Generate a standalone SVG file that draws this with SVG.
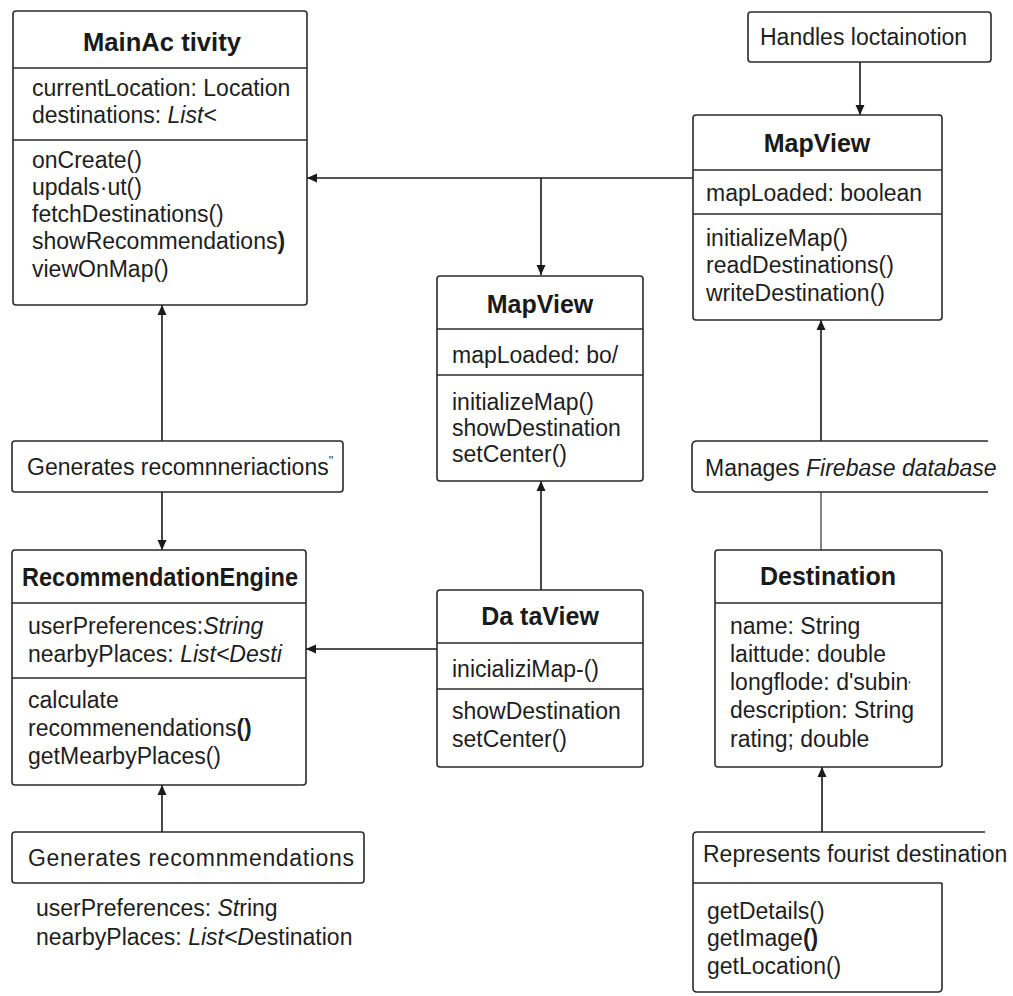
<svg xmlns="http://www.w3.org/2000/svg" width="1013" height="996" viewBox="0 0 1013 996">
<defs>
<marker id="ah" viewBox="0 0 10 10" refX="10" refY="5" markerWidth="10" markerHeight="10" markerUnits="userSpaceOnUse" orient="auto">
<path d="M0,0.5 L10,5 L0,9.5 Z" fill="#1a1a1a"/>
</marker>
<style>
.box{fill:#fff;stroke:#2a2a2a;stroke-width:1.6}
.sep{stroke:#2a2a2a;stroke-width:1.6;fill:none}
.t{font-family:"Liberation Sans",Arial,sans-serif;font-size:23px;fill:#1e1e1e}
.ti{font-family:"Liberation Sans",Arial,sans-serif;font-size:25px;font-weight:bold;fill:#1a1a1a;text-anchor:middle}
.c{stroke:#1a1a1a;stroke-width:1.6;fill:none}
.cg{stroke:#666;stroke-width:1.6;fill:none}
</style>
</defs>
<rect width="1013" height="996" fill="#fff"/>

<g id="connectors">
<path class="c" d="M693,178 L307,178" marker-end="url(#ah)"/>
<path class="c" d="M541,178 L541,275" marker-end="url(#ah)"/>
<path class="c" d="M860,62 L860,115" marker-end="url(#ah)"/>
<path class="c" d="M162,441 L162,305" marker-end="url(#ah)"/>
<path class="c" d="M162,492 L162,550" marker-end="url(#ah)"/>
<path class="c" d="M541,590 L541,481" marker-end="url(#ah)"/>
<path class="c" d="M437,649 L306,649" marker-end="url(#ah)"/>
<path class="c" d="M162,832 L162,785" marker-end="url(#ah)"/>
<path class="c" d="M821,441 L821,320" marker-end="url(#ah)"/>
<path class="cg" d="M821,492 L821,550"/>
<path class="c" d="M822,832 L822,767" marker-end="url(#ah)"/>
</g>

<g id="mainactivity">
<rect class="box" x="13" y="11" width="294" height="294" rx="3"/>
<line class="sep" x1="13" y1="68" x2="307" y2="68"/>
<line class="sep" x1="13" y1="140" x2="307" y2="140"/>
<text class="ti" x="162" y="51" textLength="158" lengthAdjust="spacingAndGlyphs">MainAc tivity</text>
<text class="t" x="32" y="96">currentLocation: Location</text>
<text class="t" x="32" y="123">destinations: <tspan font-style="italic">List&lt;</tspan></text>
<text class="t" x="32" y="168">onCreate()</text>
<text class="t" x="32" y="195">updals·ut()</text>
<text class="t" x="32" y="222">fetchDestinations()</text>
<text class="t" x="32" y="249">showRecommendations<tspan font-weight="bold">)</tspan></text>
<text class="t" x="32" y="277">viewOnMap()</text>
</g>

<g id="handles-location">
<rect class="box" x="748" y="12" width="243" height="50" rx="3"/>
<text class="t" x="760" y="45">Handles loctainotion</text>
</g>

<g id="mapview-right">
<rect class="box" x="693" y="115" width="249" height="205" rx="3"/>
<line class="sep" x1="693" y1="170" x2="942" y2="170"/>
<line class="sep" x1="693" y1="214" x2="942" y2="214"/>
<text class="ti" x="817" y="152">MapView</text>
<text class="t" x="706" y="201">mapLoaded: boolean</text>
<text class="t" x="706" y="246">initializeMap()</text>
<text class="t" x="706" y="273">readDestinations()</text>
<text class="t" x="706" y="301">writeDestination()</text>
</g>

<g id="mapview-center">
<rect class="box" x="437" y="276" width="206" height="205" rx="3"/>
<line class="sep" x1="437" y1="329" x2="643" y2="329"/>
<line class="sep" x1="437" y1="375" x2="643" y2="375"/>
<text class="ti" x="540" y="313" font-size="24">MapView</text>
<text class="t" x="452" y="363">mapLoaded: bo/</text>
<text class="t" x="452" y="410">initializeMap()</text>
<text class="t" x="452" y="436">showDestination</text>
<text class="t" x="452" y="462">setCenter()</text>
</g>

<g id="generates-top">
<rect class="box" x="12" y="441" width="331" height="51" rx="3"/>
<text class="t" x="27" y="475">Generates recomnneriactions<tspan font-size="12" dy="-10">''</tspan></text>
</g>

<g id="manages-firebase">
<path class="box" d="M988,441 L697,441 Q692,441 692,446 L692,487 Q692,492 697,492 L988,492"/>
<text class="t" x="705" y="476">Manages <tspan font-style="italic">Firebase database</tspan></text>
</g>

<g id="recommendationengine">
<rect class="box" x="12" y="550" width="294" height="235" rx="3"/>
<line class="sep" x1="12" y1="603" x2="306" y2="603"/>
<line class="sep" x1="12" y1="678" x2="306" y2="678"/>
<text class="ti" x="160" y="586" font-size="23" textLength="276" lengthAdjust="spacingAndGlyphs">RecommendationEngine</text>
<text class="t" x="28" y="634">userPreferences:<tspan font-style="italic">String</tspan></text>
<text class="t" x="28" y="662">nearbyPlaces: <tspan font-style="italic">List&lt;Desti</tspan></text>
<text class="t" x="28" y="708">calculate</text>
<text class="t" x="28" y="736">recommenendations<tspan font-weight="bold">()</tspan></text>
<text class="t" x="28" y="764">getMearbyPlaces()</text>
</g>

<g id="dataview">
<rect class="box" x="437" y="590" width="206" height="177" rx="3"/>
<line class="sep" x1="437" y1="643" x2="643" y2="643"/>
<line class="sep" x1="437" y1="689" x2="643" y2="689"/>
<text class="ti" x="540" y="625" font-size="24">Da taView</text>
<text class="t" x="452" y="677">inicializiMap-()</text>
<text class="t" x="452" y="719">showDestination</text>
<text class="t" x="452" y="747">setCenter()</text>
</g>

<g id="destination">
<rect class="box" x="715" y="550" width="227" height="217" rx="3"/>
<line class="sep" x1="715" y1="603" x2="942" y2="603"/>
<text class="ti" x="828" y="585">Destination</text>
<text class="t" x="730" y="634">name: String</text>
<text class="t" x="730" y="662">laittude: double</text>
<text class="t" x="730" y="690">longflode: d'subin<tspan font-size="12">'</tspan></text>
<text class="t" x="730" y="718">description: String</text>
<text class="t" x="730" y="747">rating; double</text>
</g>

<g id="generates-bottom">
<rect class="box" x="12" y="832" width="352" height="51" rx="3"/>
<text class="t" x="28" y="866" textLength="326" lengthAdjust="spacing">Generates  recomnmendations</text>
<text class="t" x="36" y="916">userPreferences: <tspan font-style="italic">St</tspan>ring</text>
<text class="t" x="36" y="945">nearbyPlaces: <tspan font-style="italic">List&lt;D</tspan>estination</text>
</g>

<g id="represents-destination">
<path class="box" d="M985,832 L697,832 Q693,832 693,836 L693,988 Q693,992 697,992 L938,992 Q942,992 942,988 L942,883"/>
<line class="sep" x1="693" y1="883" x2="942" y2="883"/>
<text class="t" x="703" y="862">Represents fourist destination</text>
<text class="t" x="707" y="919">getDetails()</text>
<text class="t" x="707" y="946">getImage<tspan font-weight="bold">()</tspan></text>
<text class="t" x="707" y="974">getLocation()</text>
</g>
</svg>
